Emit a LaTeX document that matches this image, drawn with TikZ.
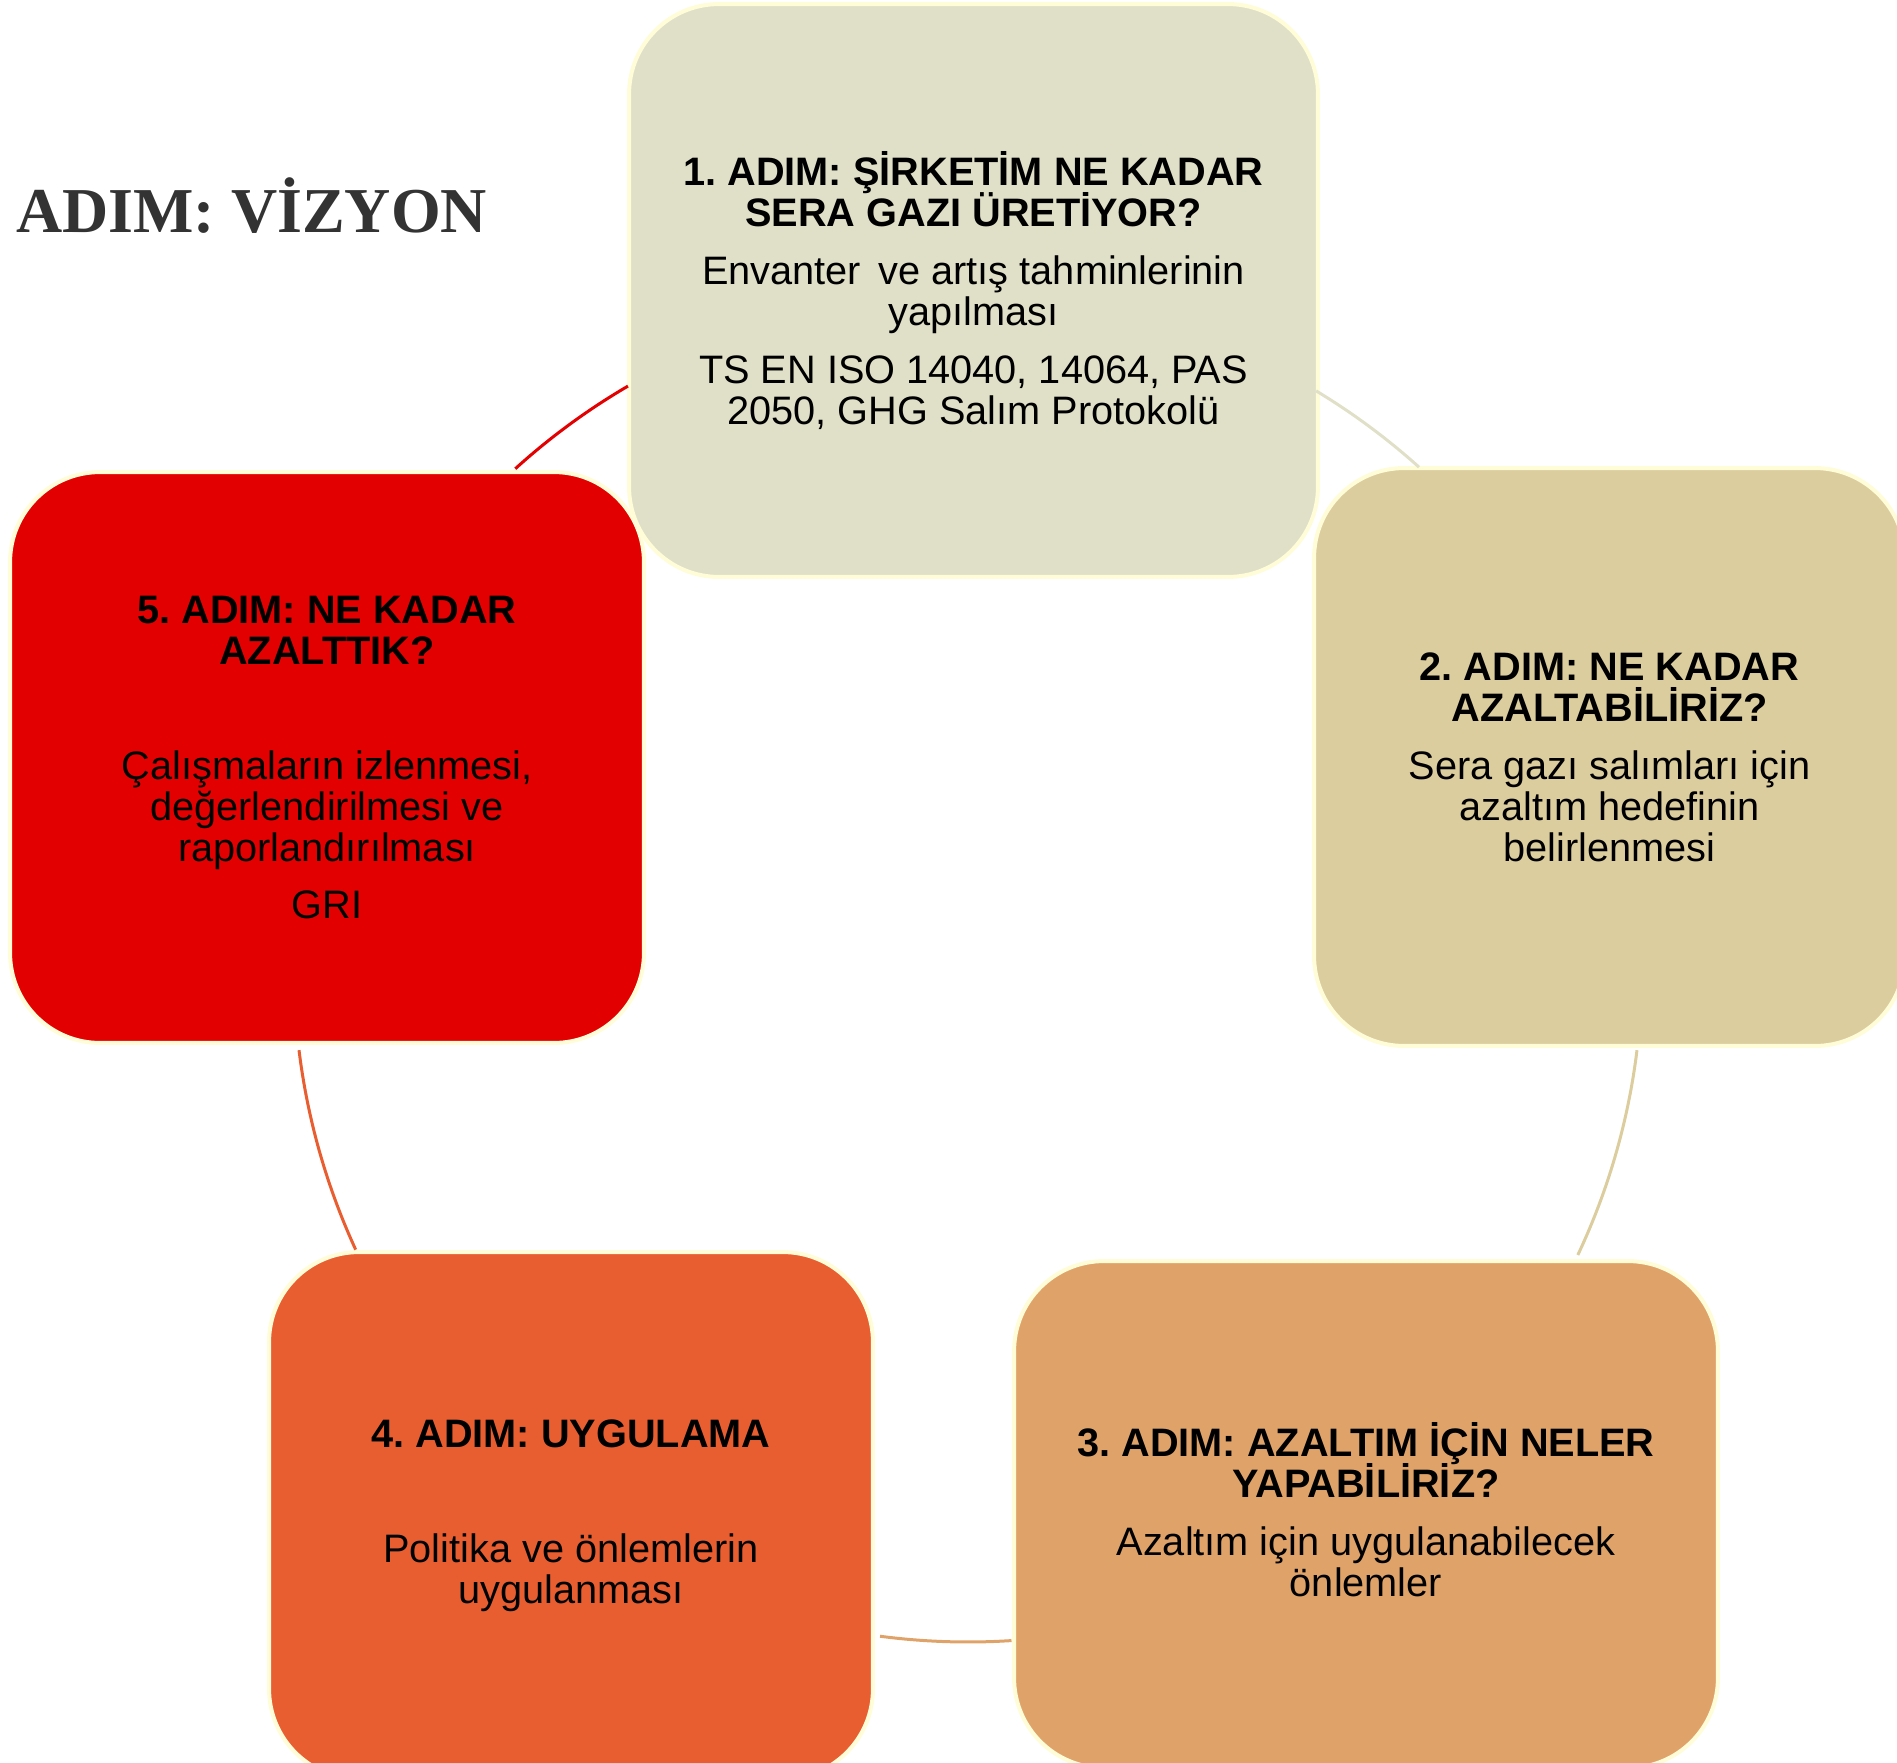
\documentclass[tikz,border=0pt]{standalone}
\usepackage{fontspec}
\setmainfont{Liberation Sans}
\newfontfamily\titlefont{Liberation Serif}
\usepackage{tikz}
\usetikzlibrary{positioning}
\frenchspacing
\newcommand{\stepfont}{\fontsize{22.6}{23.3}\selectfont\lineskiplimit=-20pt\relax}

\definecolor{cream}{HTML}{FFFCD8}
\definecolor{stepone}{HTML}{E0E0C8}
\definecolor{steptwo}{HTML}{DBCD9D}
\definecolor{stepthree}{HTML}{DFA36A}
\definecolor{stepfour}{HTML}{E85E30}
\definecolor{stepfive}{HTML}{E30000}
\definecolor{titlegray}{HTML}{333333}

\begin{document}
\begin{tikzpicture}[
    x=0.02cm, y=-0.02cm,
    stepbox/.style={rectangle, draw=cream, line width=0.08cm,
                rounded corners=1.8cm, inner sep=0pt,
                align=center, text=black, font=\stepfont},
    link/.style={line width=0.06cm},
    titletext/.style={inner sep=0pt, text=titlegray,
                font=\titlefont\bfseries\fontsize{36.4}{40}\selectfont}
]
\useasboundingbox (0,0) rectangle (1897,1762);
\clip (0,0) rectangle (1897,1762);
\coordinate (hub) at (968,968);

\node[titletext, anchor=base west] (title) at (16,232) {ADIM: VİZYON};

% Cycle steps
\node[stepbox, fill=stepone, minimum width=13.78cm, minimum height=11.46cm] (s1) at (973.5,290.5)
    {\textbf{1. ADIM: ŞİRKETİM NE KADAR}\\\textbf{SERA GAZI ÜRETİYOR?}\\[0.34cm]
     Envanter\, ve artış tahminlerinin\\yapılması\\[0.34cm]
     TS EN ISO 14040, 14064, PAS\\2050, GHG Salım Protokolü};
\node[stepbox, fill=steptwo, minimum width=11.82cm, minimum height=11.56cm] (s2) at (1609.5,757)
    {\textbf{2. ADIM: NE KADAR}\\\textbf{AZALTABİLİRİZ?}\\[0.34cm]
     Sera gazı salımları için\\azaltım hedefinin\\belirlenmesi};
\node[stepbox, fill=stepthree, minimum width=14.08cm, minimum height=10.14cm] (s3) at (1366,1514.5)
    {\textbf{3. ADIM: AZALTIM İÇİN NELER}\\\textbf{YAPABİLİRİZ?}\\[0.34cm]
     Azaltım için uygulanabilecek\\önlemler\\[-0.62cm]\mbox{}};
\node[stepbox, fill=stepfour, minimum width=12.08cm, minimum height=10.54cm] (s4) at (571,1515.5)
    {\textbf{4. ADIM: UYGULAMA}\\[1.48cm]
     Politika ve önlemlerin\\uygulanması};
\node[stepbox, fill=stepfive, minimum width=12.68cm, minimum height=11.42cm] (s5) at (327,757.5)
    {\textbf{5. ADIM: NE KADAR}\\\textbf{AZALTTIK?}\\[1.48cm]
     Çalışmaların izlenmesi,\\değerlendirilmesi ve\\raporlandırılması\\[0.32cm]
     GRI};

% Arcs between steps
\draw[link, stepfive] (hub) ++(-132.2:674) arc[start angle=-132.2, end angle=-120.3, radius=674];
\draw[link, stepone] (hub) ++(-58.9:674) arc[start angle=-58.9, end angle=-48.0, radius=674];
\draw[link, steptwo] (hub) ++(7.0:674) arc[start angle=7.0, end angle=25.2, radius=674];
\draw[link, stepthree] (hub) ++(86.3:674) arc[start angle=86.3, end angle=97.5, radius=674];
\draw[link, stepfour] (hub) ++(155.3:674) arc[start angle=155.3, end angle=173.0, radius=674];
\end{tikzpicture}
\end{document}
